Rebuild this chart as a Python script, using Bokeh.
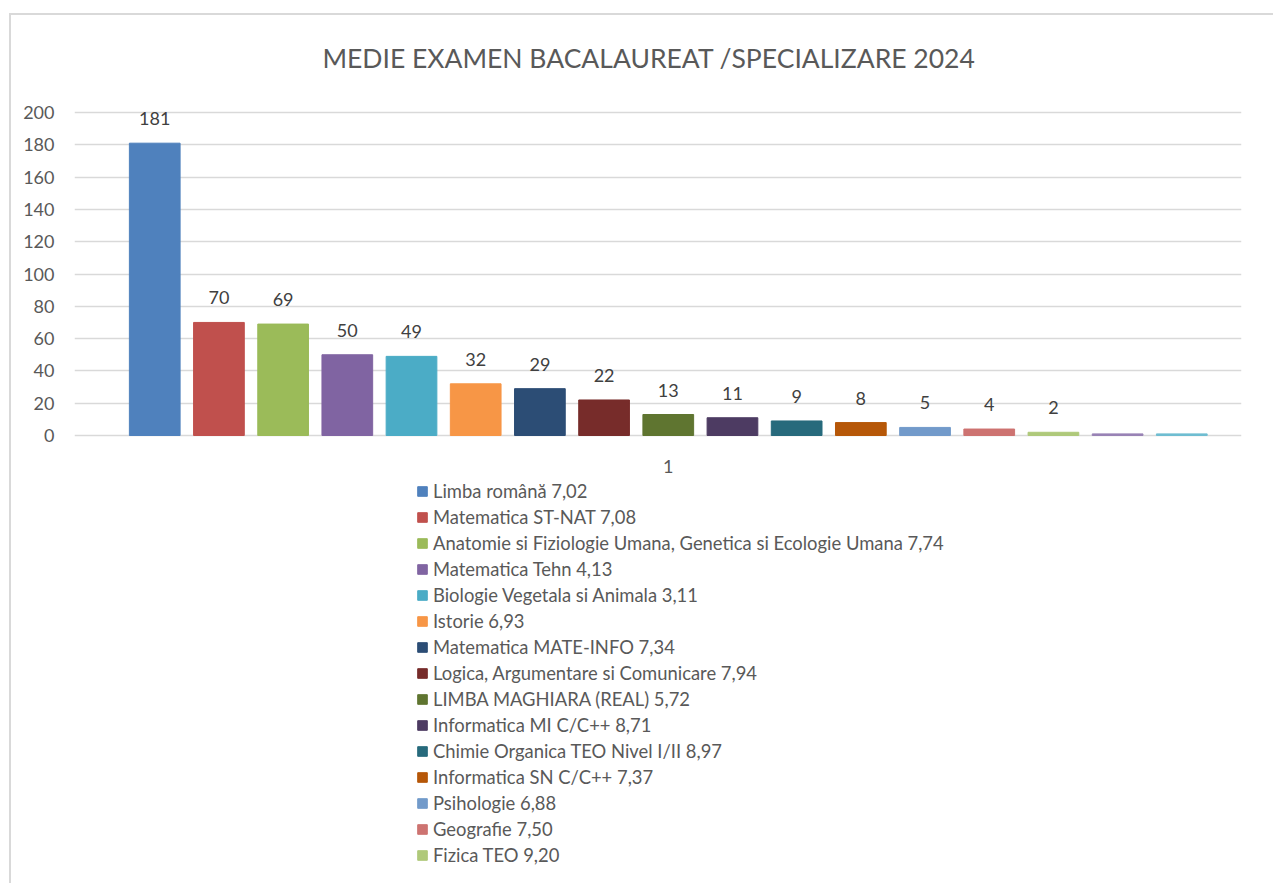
from bokeh.plotting import figure
from bokeh.models import ColumnDataSource, Legend, LegendItem, FixedTicker, Range1d, LabelSet, Label
from bokeh.core.properties import value
from bokeh.embed import file_html
from bokeh.resources import INLINE

title_text = "MEDIE EXAMEN BACALAUREAT /SPECIALIZARE 2024"
subjects = [
    "Limba română 7,02",
    "Matematica ST-NAT 7,08",
    "Anatomie si Fiziologie Umana, Genetica si Ecologie Umana 7,74",
    "Matematica Tehn 4,13",
    "Biologie Vegetala si Animala 3,11",
    "Istorie 6,93",
    "Matematica MATE-INFO 7,34",
    "Logica, Argumentare si Comunicare 7,94",
    "LIMBA MAGHIARA (REAL) 5,72",
    "Informatica MI C/C++ 8,71",
    "Chimie Organica TEO Nivel I/II 8,97",
    "Informatica SN C/C++ 7,37",
    "Psihologie 6,88",
    "Geografie 7,50",
    "Fizica TEO 9,20",
    "",
    "",
]
counts = [181, 70, 69, 50, 49, 32, 29, 22, 13, 11, 9, 8, 5, 4, 2, 1, 1]
labels = ["181", "70", "69", "50", "49", "32", "29", "22", "13", "11", "9", "8", "5", "4", "2", "", ""]
colors = ["#4F81BD", "#C0504D", "#9BBB59", "#8064A2", "#4BACC6", "#F79646",
          "#2C4D75", "#772C2A", "#5F7530", "#4D3B62", "#276A7C", "#B65708",
          "#729ACA", "#CD7371", "#AFC97A", "#9983B5", "#6FBDD1"]
category_tick = "1"
y_ticks = [0, 20, 40, 60, 80, 100, 120, 140, 160, 180, 200]

FONT = "Lato"
TXT = "#595959"

idx = list(range(len(counts)))
src = ColumnDataSource(dict(x=idx, top=counts, color=colors, lab=labels, name=subjects))

# The frame spans the whole chart box; value axis 0..200 occupies 323 px of it,
# the title sits above and the legend below, both drawn inside the frame.
px_per_unit = 323 / 200
above_px = 95
below_px = 446
frame_h = 323 + above_px + below_px
y_top = 200 + above_px / px_per_unit
y_bottom = -below_px / px_per_unit

p = figure(title=None, frame_width=1167, frame_height=frame_h, output_backend="svg",
           toolbar_location=None,
           x_range=Range1d(-1.25, 16.93), y_range=Range1d(y_bottom, y_top),
           min_border_left=63, min_border_right=32, min_border_top=2, min_border_bottom=2)
p.margin = (13, 0, 0, 9)
p.styles = {"border-top": "2px solid #D9D9D9", "border-left": "2px solid #D9D9D9"}
p.outline_line_color = None
p.background_fill_color = "white"
p.border_fill_color = "white"

# chart title
p.add_layout(Label(x=7.7, y=200 + 55 / px_per_unit, text=title_text, text_align="center",
                   text_baseline="middle", text_font=FONT, text_font_size="26.5px",
                   text_color=TXT))

r = p.vbar(x="x", top="top", width=0.79, color="color", source=src)

p.add_layout(LabelSet(x="x", y="top", text="lab", source=src, text_align="center",
                      text_baseline="bottom", y_offset=18, text_font=value(FONT),
                      text_font_size=value("18px"), text_color=value("#404040")))

p.xaxis.visible = False
p.xgrid.grid_line_color = None
p.ygrid.grid_line_color = "#D9D9D9"
p.ygrid.grid_line_width = 1.5
p.yaxis.ticker = FixedTicker(ticks=y_ticks)
p.yaxis.axis_line_color = None
p.yaxis.major_tick_line_color = None
p.yaxis.minor_tick_line_color = None
p.yaxis.major_label_text_font = FONT
p.yaxis.major_label_text_font_size = "18px"
p.yaxis.major_label_text_color = TXT
p.yaxis.major_label_standoff = 14

# category label under the bars
p.add_layout(Label(x=(len(counts) - 1) / 2, y=0, text=category_tick, text_align="center",
                   text_baseline="middle", y_offset=-31, text_font=FONT,
                   text_font_size="18px", text_color=TXT))

items = [LegendItem(label=subjects[i], renderers=[r], index=i) for i in range(15)]
legend = Legend(items=items, location=(342, 15), orientation="vertical",
                label_text_font=FONT, label_text_font_size="18.4px", label_text_color=TXT,
                glyph_width=12, glyph_height=12, label_height=22, spacing=4,
                label_standoff=5, padding=0, margin=0, border_line_color=None,
                background_fill_alpha=0)
p.add_layout(legend, "center")

open("out.html", "w").write(file_html(p, INLINE))
